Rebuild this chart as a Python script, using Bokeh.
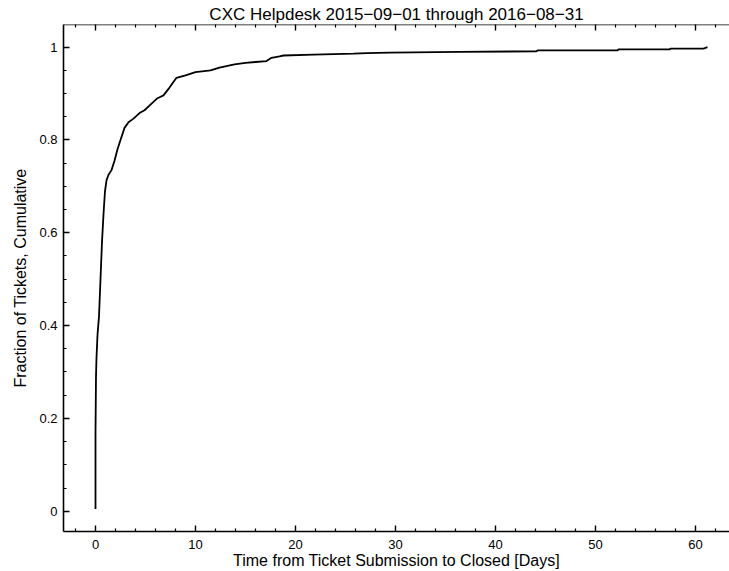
import math
from bokeh.plotting import figure
from bokeh.models import Range1d, LinearAxis, FixedTicker, Span
from bokeh.embed import file_html
from bokeh.resources import INLINE

# Cumulative fraction of helpdesk tickets closed vs. days since submission
days = [0.0, 0.0, 0.05, 0.1, 0.2, 0.35, 0.5, 0.65, 0.8, 0.95, 1.1, 1.3, 1.6,
        1.9, 2.2, 2.5, 2.9, 3.3, 3.8, 4.4, 4.9, 5.5, 6.2, 6.8, 7.3, 7.7, 8.1,
        9.0, 10.0, 11.5, 12.4, 13.9, 15.0, 16.0, 17.1, 17.6, 18.4, 18.8, 21.8,
        25.8, 27.1, 29.4, 36.4, 44.1, 44.2, 52.2, 52.3, 57.4, 57.5, 60.8, 61.2]
fraction = [0.005, 0.17, 0.29, 0.33, 0.38, 0.42, 0.50, 0.58, 0.64, 0.69, 0.713,
            0.725, 0.735, 0.755, 0.78, 0.80, 0.826, 0.838, 0.846, 0.858, 0.864,
            0.876, 0.890, 0.896, 0.910, 0.922, 0.934, 0.939, 0.946, 0.950,
            0.956, 0.963, 0.966, 0.968, 0.970, 0.977, 0.980, 0.982, 0.984,
            0.986, 0.987, 0.988, 0.990, 0.991, 0.993, 0.993, 0.995, 0.995,
            0.997, 0.997, 1.0]

x_major = [0, 10, 20, 30, 40, 50, 60]
x_minor = [-2, 2, 4, 6, 8, 12, 14, 16, 18, 22, 24, 26, 28, 32, 34, 36, 38,
           42, 44, 46, 48, 52, 54, 56, 58, 62]
y_major = [0, 0.2, 0.4, 0.6, 0.8, 1.0]
y_labels = ["0", "0.2", "0.4", "0.6", "0.8", "1"]
y_minor = [0.05, 0.1, 0.15, 0.25, 0.3, 0.35, 0.45, 0.5, 0.55, 0.65, 0.7,
           0.75, 0.85, 0.9, 0.95]

title_text = "CXC Helpdesk 2015\u221209\u221201 through 2016\u221208\u221231"
FONT = "Liberation Sans"

x_rng = Range1d(-3.2, 63.4)
y_rng = Range1d(-0.0437, 1.0488)

p = figure(width=729, height=571, output_backend="svg", toolbar_location=None,
           x_range=x_rng, y_range=y_rng,
           x_axis_location=None, y_axis_location=None,
           min_border_left=63, min_border_right=0, min_border_top=24,
           min_border_bottom=39, title=title_text)
p.outline_line_color = None
p.xgrid.visible = False
p.ygrid.visible = False
p.background_fill_color = "white"
p.border_fill_color = "white"

p.title.text_font = FONT
p.title.text_font_size = "17px"
p.title.text_font_style = "normal"
p.title.text_color = "black"
p.title.align = "center"
p.title.offset = 5
p.title.standoff = 1

p.line(days, fraction, line_color="black", line_width=1.8)


def style(ax):
    ax.axis_line_color = "black"
    ax.axis_line_width = 1.6
    ax.major_tick_line_color = "black"
    ax.minor_tick_line_color = "black"
    ax.major_tick_line_width = 1.4
    ax.minor_tick_line_width = 1.2
    ax.major_tick_in = 6
    ax.major_tick_out = 0
    ax.minor_tick_in = 3
    ax.minor_tick_out = 0
    ax.major_label_text_font = FONT
    ax.major_label_text_font_size = "13px"
    ax.major_label_text_color = "black"
    ax.axis_label_text_font = FONT
    ax.axis_label_text_font_style = "normal"
    ax.axis_label_text_font_size = "16px"
    ax.axis_label_text_color = "black"


xt = FixedTicker(ticks=x_major, minor_ticks=x_minor)
yt = FixedTicker(ticks=y_major, minor_ticks=y_minor)

bottom = LinearAxis(ticker=xt, axis_label="Time from Ticket Submission to Closed [Days]")
style(bottom)
bottom.major_label_standoff = 8
bottom.axis_label_standoff = 0
p.add_layout(bottom, "below")

left = LinearAxis(ticker=yt, axis_label="Fraction of Tickets, Cumulative",
                  major_label_overrides={v: s for v, s in zip(y_major, y_labels)})
style(left)
left.major_label_standoff = 6
left.axis_label_standoff = 7
p.add_layout(left, "left")

# Top edge of the frame with inward-pointing tick marks (no labels);
# the dash markers are centred on the edge so the frame clips their outer half
p.add_layout(Span(location=y_rng.end, dimension="width",
                  line_color="black", line_width=1.6))
p.scatter(x_major, [y_rng.end] * len(x_major), marker="dash", angle=math.pi / 2,
          size=12, line_color="black", line_width=1.4)
p.scatter(x_minor, [y_rng.end] * len(x_minor), marker="dash", angle=math.pi / 2,
          size=6, line_color="black", line_width=1.2)

open("out.html", "w").write(file_html(p, INLINE))
